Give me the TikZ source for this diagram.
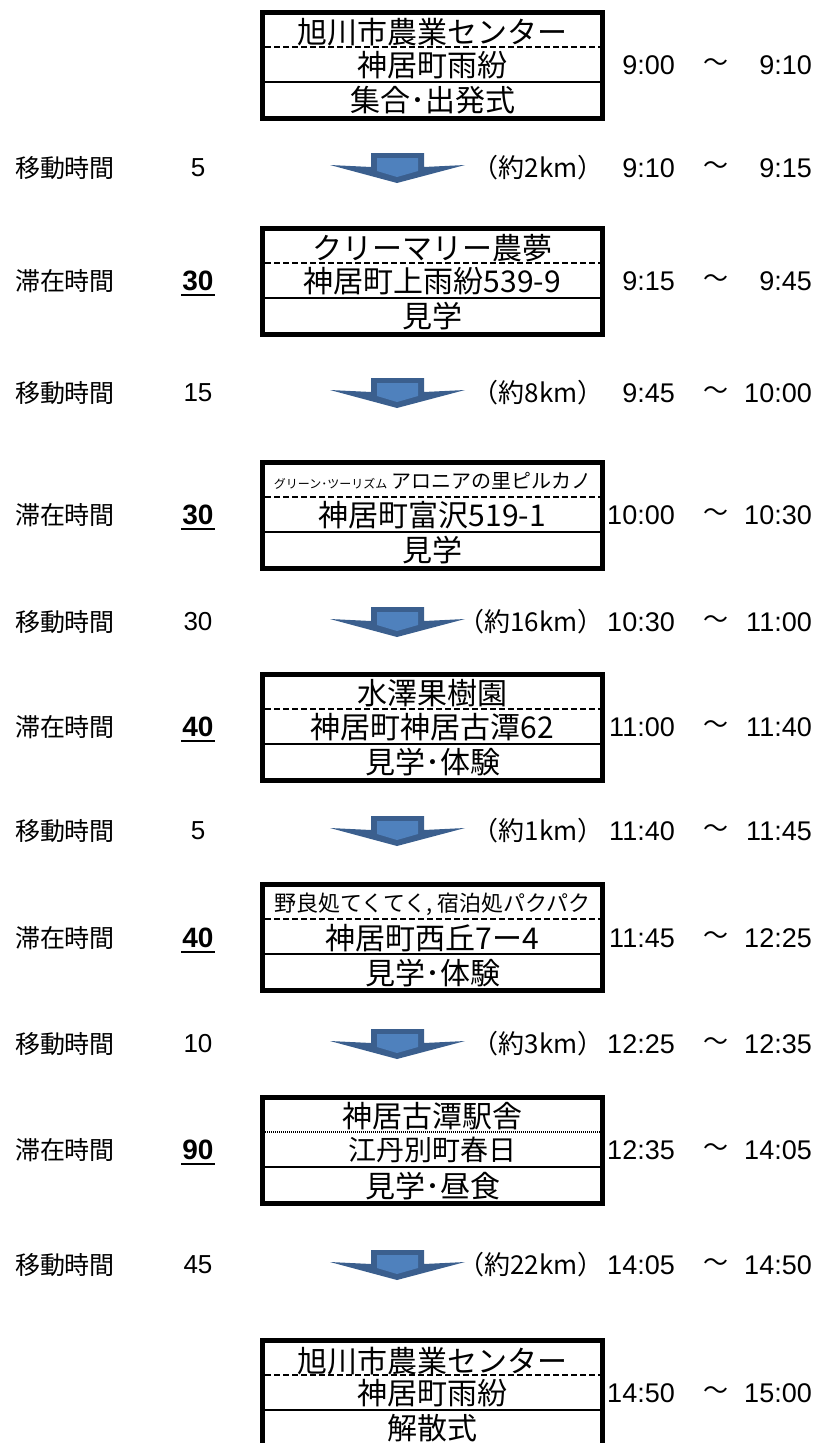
\documentclass[tikz,border=0pt]{standalone}
\usepackage{fontspec}
\setmainfont{Noto Sans CJK JP}
\newfontfamily\numfont{Liberation Sans}
\usepackage{xcolor}
\usepackage{tikz}
\usetikzlibrary{calc}
\definecolor{arrowdark}{HTML}{3B5F8E}
\definecolor{arrowlight}{HTML}{4F81BD}
\tikzset{frame/.style={draw=black,line width=5pt},
dash sep/.style={line width=1.8pt,dash pattern=on 6pt off 3pt},
dot sep/.style={line width=2.5pt,dash pattern=on 1pt off 1pt},
solid sep/.style={line width=2.5pt}}

\begin{document}
\begin{tikzpicture}[x=1pt,y=-1pt,
                    label node/.style={font=\fontsize{25}{25}\selectfont,inner sep=0pt},
                    num node/.style={font=\numfont\fontsize{26}{26}\selectfont,inner sep=0pt},
                    stay node/.style={font=\numfont\bfseries\fontsize{28}{28}\selectfont,inner sep=0pt},
                    time node/.style={font=\numfont\fontsize{27}{27}\selectfont,inner sep=0pt},
                    dist node/.style={font=\fontsize{26}{26}\selectfont,inner sep=0pt,anchor=east},
                    box text/.style={font=\fontsize{30}{30}\selectfont,inner sep=0pt}]

\useasboundingbox (0,0) rectangle (825,1443);
\clip (0,0) rectangle (825,1443);

%DRAWING the boxes
 \foreach \t/\sep in {10/dash sep,226/dash sep,460/dash sep,672/dash sep,882/dash sep,1095/dot sep,1338/dash sep}
 {\draw[frame] (262.5,\t+2.5) rectangle (602.5,\t+108.5);
  \draw[\sep] (265,\t+37)--(600,\t+37);
  \draw[solid sep] (265,\t+72)--(600,\t+72);}

%Box texts
  \node[box text] (Box1Top) at (432.5,32) {旭川市農業センター};
  \node[box text] (Box1Mid) at (432.5,65) {神居町雨紛};
  \node[box text] (Box1Bot) at (432.5,100) {集合･出発式};

  \node[box text] (Box2Top) at (432.5,248) {クリーマリー農夢};
  \node[box text] (Box2Mid) at (432.5,281) {神居町上雨紛539-9};
  \node[box text] (Box2Bot) at (432.5,316) {見学};

  \node[box text,font=\fontsize{20}{20}\selectfont] (Box3Top) at (432.5,481) {{\fontsize{12}{12}\selectfont グリーン･ツーリズム} アロニアの里ピルカノ};
  \node[box text] (Box3Mid) at (432.5,515) {神居町富沢519-1};
  \node[box text] (Box3Bot) at (432.5,550) {見学};

  \node[box text] (Box4Top) at (432.5,693) {水澤果樹園};
  \node[box text] (Box4Mid) at (432.5,727) {神居町神居古潭62};
  \node[box text] (Box4Bot) at (432.5,762) {見学･体験};

  \node[box text,font=\fontsize{22}{22}\selectfont] (Box5Top) at (432.5,904) {野良処てくてく, 宿泊処パクパク};
  \node[box text] (Box5Mid) at (432.5,938) {神居町西丘7ー4};
  \node[box text] (Box5Bot) at (432.5,973) {見学･体験};

  \node[box text] (Box6Top) at (432.5,1116) {神居古潭駅舎};
  \node[box text,font=\fontsize{28}{28}\selectfont] (Box6Mid) at (432.5,1150) {江丹別町春日};
  \node[box text] (Box6Bot) at (432.5,1186) {見学･昼食};

  \node[box text] (Box7Top) at (432.5,1361) {旭川市農業センター};
  \node[box text] (Box7Mid) at (432.5,1393) {神居町雨紛};
  \node[box text] (Box7Bot) at (432.5,1428) {解散式};

%Stay rows
 \foreach \y/\s [count=\i from 2] in {281/30,515/30,727/40,938/40,1150/90}
 {\node[label node] (StayLabel\i) at (65,\y) {滞在時間};
  \node[stay node] (Stay\i) at (198,\y) {\s};
  \draw[line width=2.5pt] ($(Stay\i.south west)+(-1,4)$)--($(Stay\i.south east)+(1,4)$);}

%Move rows with arrows
 \foreach \y/\m/\km [count=\i] in {168/5/2,393/15/8,622/30/16,831/5/1,1044/10/3,1265/45/22}
 {\node[label node] (MoveLabel\i) at (65,\y) {移動時間};
  \node[num node] (MoveMin\i) at (198,\y) {\m};
  \begin{scope}[shift={(397,\y)}]
   \fill[arrowdark] (-26,-15)--(27,-15)--(27,-1)--(68,-3)--(0,15)--(-67,-3)--(-26,-1)--cycle;
   \fill[arrowlight] (-20,-10)--(21,-10)--(21,3)--(0,9)--(-20,3)--cycle;
  \end{scope}
  \node[dist node] (Dist\i) at (604,\y) {（約\km km）};}

%Times
 \foreach \y/\a/\b [count=\i] in {65/9:00/9:10,168/9:10/9:15,281/9:15/9:45,393/9:45/10:00,515/10:00/10:30,622/10:30/11:00,727/11:00/11:40,831/11:40/11:45,938/11:45/12:25,1044/12:25/12:35,1150/12:35/14:05,1265/14:05/14:50,1393/14:50/15:00}
 {\node[time node,anchor=east] (Start\i) at (675,\y) {\a};
  \node[label node] (Tilde\i) at (716,\y) {～};
  \node[time node,anchor=east] (End\i) at (812,\y) {\b};}

\end{tikzpicture}
\end{document}
